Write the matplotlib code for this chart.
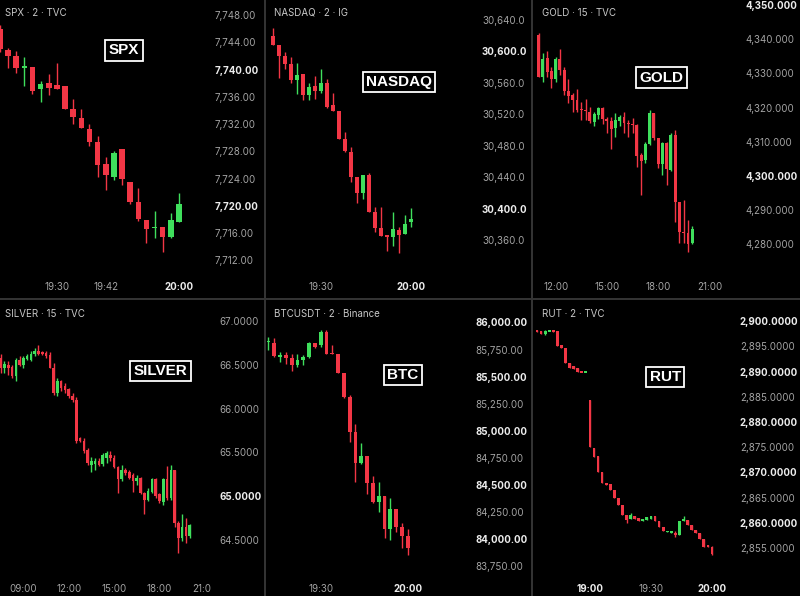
import numpy as np
import matplotlib.pyplot as plt
from matplotlib.patches import Rectangle

plt.rcParams['font.family'] = ['Inter', 'DejaVu Sans']

W, H = 800, 596
RED = '#f23645'
GREEN = '#3fdf5c'
DIVIDER = '#333333'
TICK = '#a3a3a3'
TICK_BOLD = '#ececec'

# ---------------- data (open, high, low, close) ----------------
spx_start, spx_step = '19:16', 2
spx_ohlc = [
    (7745.9, 7746.5, 7742.6, 7743.0), (7742.9, 7743.2, 7740.2, 7742.0), (7742.0, 7742.7, 7739.5, 7740.2),
    (7740.3, 7741.8, 7737.6, 7740.4), (7740.4, 7740.4, 7736.4, 7736.9), (7737.1, 7738.3, 7735.2, 7737.9),
    (7738.0, 7739.3, 7736.3, 7737.3), (7737.7, 7741.0, 7737.1, 7737.1), (7737.6, 7737.6, 7734.2, 7734.2),
    (7734.2, 7735.7, 7732.0, 7733.0), (7732.9, 7734.2, 7731.4, 7731.4), (7731.3, 7732.0, 7728.8, 7729.4),
    (7729.4, 7730.2, 7724.2, 7726.0), (7726.1, 7727.2, 7722.3, 7724.5), (7724.2, 7728.0, 7723.8, 7727.8),
    (7728.3, 7728.3, 7723.1, 7723.9), (7723.5, 7723.5, 7720.3, 7720.6), (7720.6, 7722.6, 7717.8, 7718.1),
    (7717.9, 7717.9, 7714.5, 7716.6), (7716.7, 7719.2, 7715.3, 7716.9), (7716.9, 7716.9, 7713.2, 7715.4),
    (7715.4, 7718.9, 7715.3, 7717.9), (7717.6, 7721.9, 7717.6, 7720.3),
]
spx_times = ['19:30', '19:42', '20:00']
spx_prices = [7748, 7744, 7740, 7736, 7732, 7728, 7724, 7720, 7716, 7712]
spx_bold_times = ['20:00']
spx_bold_prices = [7740, 7720]

nasdaq_start, nasdaq_step = '19:14', 2
nasdaq_ohlc = [
    (30619.4, 30629.6, 30608.0, 30608.0), (30608.0, 30608.0, 30566.1, 30594.0), (30594.0, 30599.1, 30577.5, 30583.9),
    (30583.9, 30592.8, 30559.7, 30563.5), (30563.5, 30585.1, 30545.8, 30569.9), (30571.2, 30571.2, 30538.1, 30544.5),
    (30544.5, 30559.7, 30538.1, 30554.7), (30556.0, 30568.6, 30539.4, 30549.6), (30549.6, 30577.5, 30547.0, 30559.7),
    (30559.7, 30564.8, 30528.0, 30529.3), (30531.8, 30547.0, 30524.2, 30524.2), (30524.2, 30524.2, 30488.6, 30488.6),
    (30488.6, 30497.5, 30472.1, 30473.4), (30472.1, 30478.5, 30434.0, 30440.4), (30440.4, 30440.4, 30407.3, 30420.0),
    (30420.0, 30442.9, 30412.4, 30442.9), (30442.9, 30445.5, 30395.9, 30395.9), (30395.9, 30402.3, 30370.5, 30375.6),
    (30375.6, 30402.3, 30365.4, 30365.4), (30366.7, 30366.7, 30346.4, 30364.2), (30364.2, 30395.9, 30352.7, 30374.3),
    (30373.0, 30376.9, 30343.8, 30366.7), (30368.0, 30392.1, 30368.0, 30380.7), (30383.3, 30401.0, 30376.9, 30387.0),
]
nasdaq_times = ['19:30', '20:00']
nasdaq_prices = [30640, 30600, 30560, 30520, 30480, 30440, 30400, 30360]
nasdaq_bold_times = ['20:00']
nasdaq_bold_prices = [30600, 30400]

gold_start, gold_step = '11:00', 15
gold_ohlc = [
    (4341.2, 4341.9, 4328.9, 4328.9), (4329.0, 4335.9, 4327.6, 4334.1), (4334.4, 4336.6, 4329.0, 4330.5),
    (4330.8, 4332.0, 4325.6, 4328.3), (4328.3, 4334.7, 4327.6, 4334.1), (4334.1, 4337.0, 4329.5, 4331.0),
    (4331.0, 4332.0, 4323.7, 4324.7), (4324.7, 4328.3, 4321.4, 4323.4), (4323.7, 4324.4, 4318.8, 4322.2),
    (4322.2, 4325.3, 4318.8, 4319.3), (4319.5, 4321.7, 4316.4, 4319.3), (4319.3, 4322.4, 4316.4, 4319.1),
    (4318.8, 4320.1, 4315.4, 4316.2), (4315.9, 4318.8, 4314.6, 4318.0), (4317.8, 4320.1, 4316.6, 4319.8),
    (4319.8, 4320.1, 4315.2, 4316.6), (4316.6, 4317.3, 4312.5, 4316.2), (4316.2, 4317.2, 4307.8, 4313.6),
    (4313.9, 4318.5, 4311.5, 4316.4), (4316.2, 4317.8, 4314.6, 4317.3), (4317.3, 4318.8, 4312.7, 4315.4),
    (4315.4, 4316.4, 4311.5, 4315.2), (4315.1, 4316.9, 4312.5, 4314.8), (4314.8, 4315.2, 4302.7, 4305.8),
    (4306.1, 4306.6, 4294.4, 4304.5), (4304.7, 4310.0, 4303.9, 4309.4), (4309.4, 4319.3, 4309.1, 4318.5),
    (4318.5, 4318.5, 4310.5, 4311.0), (4311.0, 4311.0, 4302.2, 4303.5), (4303.5, 4310.0, 4300.3, 4309.6),
    (4309.6, 4310.0, 4297.4, 4302.0), (4301.8, 4312.5, 4301.3, 4312.0), (4312.0, 4313.5, 4286.5, 4292.3),
    (4292.3, 4292.3, 4280.5, 4283.5), (4283.7, 4293.0, 4280.5, 4283.4), (4283.2, 4287.1, 4277.7, 4280.1),
    (4280.3, 4285.4, 4280.1, 4284.4),
]
gold_times = ['12:00', '15:00', '18:00', '21:00']
gold_prices = [4350, 4340, 4330, 4320, 4310, 4300, 4290, 4280]
gold_bold_times = []
gold_bold_prices = [4350, 4300]

silver_start, silver_step = '07:15', 15
silver_ohlc = [
    (66.77, 66.82, 66.52, 66.60), (66.58, 66.62, 66.41, 66.47), (66.47, 66.54, 66.41, 66.51),
    (66.50, 66.54, 66.39, 66.47), (66.48, 66.50, 66.35, 66.37), (66.37, 66.58, 66.32, 66.56),
    (66.56, 66.60, 66.49, 66.50), (66.50, 66.60, 66.47, 66.58), (66.57, 66.62, 66.56, 66.60),
    (66.56, 66.66, 66.54, 66.63), (66.62, 66.70, 66.60, 66.66), (66.66, 66.73, 66.61, 66.62),
    (66.65, 66.66, 66.61, 66.62), (66.64, 66.66, 66.58, 66.60), (66.61, 66.65, 66.46, 66.47),
    (66.47, 66.52, 66.16, 66.18), (66.18, 66.35, 66.14, 66.32), (66.32, 66.33, 66.20, 66.24),
    (66.26, 66.29, 66.18, 66.21), (66.22, 66.24, 66.12, 66.15), (66.15, 66.18, 66.08, 66.10),
    (66.10, 66.13, 65.61, 65.63), (65.66, 65.67, 65.62, 65.63), (65.63, 65.66, 65.49, 65.51),
    (65.53, 65.55, 65.36, 65.38), (65.36, 65.45, 65.28, 65.40), (65.37, 65.44, 65.30, 65.40),
    (65.40, 65.44, 65.34, 65.36), (65.37, 65.49, 65.34, 65.47), (65.44, 65.52, 65.38, 65.49),
    (65.47, 65.51, 65.40, 65.44), (65.44, 65.47, 65.32, 65.33), (65.33, 65.34, 65.04, 65.19),
    (65.19, 65.36, 65.17, 65.30), (65.30, 65.32, 65.24, 65.26), (65.28, 65.30, 65.19, 65.21),
    (65.24, 65.26, 65.05, 65.17), (65.17, 65.24, 65.13, 65.21), (65.21, 65.22, 65.02, 65.04),
    (65.04, 65.05, 64.79, 64.96), (64.96, 65.09, 64.94, 65.06), (65.05, 65.21, 65.04, 65.19),
    (65.19, 65.21, 64.98, 65.00), (65.02, 65.04, 64.92, 64.94), (64.93, 65.21, 64.90, 65.19),
    (65.19, 65.34, 64.96, 64.98), (64.98, 65.36, 64.96, 65.30), (65.30, 65.30, 64.65, 64.69),
    (64.69, 64.71, 64.35, 64.52), (64.52, 64.79, 64.48, 64.64), (64.64, 64.75, 64.46, 64.54),
    (64.54, 64.68, 64.52, 64.67),
]
silver_times = ['09:00', '12:00', '15:00', '18:00', '21:00']
silver_prices = [67.0, 66.5, 66.0, 65.5, 65.0, 64.5]
silver_bold_times = []
silver_bold_prices = [65.0]

btc_start, btc_step = '19:12', 2
btc_ohlc = [
    (85819, 85867, 85744, 85823), (85806, 85852, 85682, 85691), (85682, 85728, 85636, 85698),
    (85698, 85728, 85620, 85673), (85673, 85713, 85549, 85611), (85611, 85713, 85590, 85657),
    (85651, 85698, 85605, 85682), (85682, 85821, 85673, 85806), (85806, 85812, 85765, 85775),
    (85790, 85929, 85775, 85914), (85914, 85929, 85713, 85713), (85719, 85796, 85704, 85704),
    (85713, 85713, 85537, 85537), (85537, 85537, 85306, 85312), (85312, 85327, 84895, 84988),
    (84988, 85065, 84525, 84704), (84704, 84889, 84694, 84772), (84772, 84772, 84417, 84519),
    (84519, 84586, 84333, 84340), (84340, 84531, 84247, 84395), (84395, 84395, 84015, 84093),
    (84093, 84377, 83994, 84278), (84278, 84278, 84062, 84117), (84117, 84154, 83923, 84031),
    (84025, 84093, 83852, 83923),
]
btc_times = ['19:30', '20:00']
btc_prices = [86000, 85750, 85500, 85250, 85000, 84750, 84500, 84250, 84000, 83750]
btc_bold_times = ['20:00']
btc_bold_prices = [86000, 85500, 85000, 84500, 84000]

rut_start, rut_step = '18:34', 2
rut_ohlc = [
    (2898.2, 2898.3, 2897.8, 2897.8), (2898.0, 2898.1, 2897.5, 2897.5), (2897.4, 2898.2, 2897.35, 2898.1),
    (2898.0, 2898.3, 2898.0, 2898.2), (2898.2, 2898.3, 2897.8, 2897.8), (2898.0, 2898.0, 2895.0, 2895.0),
    (2895.2, 2895.2, 2894.7, 2894.7), (2894.7, 2894.7, 2891.7, 2891.7), (2891.7, 2891.7, 2890.7, 2890.7),
    (2891.1, 2891.1, 2890.6, 2890.6), (2890.7, 2890.7, 2889.9, 2889.9), (2890.0, 2890.0, 2889.85, 2889.9),
    (2889.9, 2890.0, 2889.9, 2890.0), (2884.4, 2884.4, 2875.0, 2875.0), (2874.85, 2874.85, 2873.0, 2873.0),
    (2873.2, 2873.2, 2870.1, 2870.1), (2870.1, 2870.1, 2867.9, 2867.9), (2867.9, 2867.9, 2867.6, 2867.6),
    (2867.7, 2867.7, 2866.6, 2866.6), (2866.6, 2866.6, 2864.9, 2864.9), (2864.9, 2864.9, 2863.6, 2863.6),
    (2863.6, 2863.6, 2861.6, 2861.6), (2861.6, 2861.6, 2860.0, 2860.6), (2860.8, 2862.0, 2860.8, 2861.6),
    (2861.3, 2861.3, 2860.8, 2860.8), (2861.0, 2861.0, 2860.3, 2860.3), (2860.4, 2860.8, 2860.4, 2860.8),
    (2860.6, 2861.1, 2860.6, 2861.1), (2860.8, 2861.3, 2860.8, 2861.3), (2861.3, 2861.3, 2860.3, 2860.3),
    (2860.3, 2860.3, 2859.1, 2859.1), (2859.1, 2859.1, 2858.3, 2858.3), (2858.1, 2858.4, 2858.1, 2858.4),
    (2858.0, 2858.3, 2858.0, 2858.3), (2858.0, 2858.3, 2857.1, 2857.5), (2857.65, 2860.3, 2857.65, 2860.3),
    (2860.4, 2861.3, 2860.4, 2860.8), (2860.6, 2860.6, 2859.6, 2859.6), (2859.6, 2859.6, 2858.5, 2858.5),
    (2858.5, 2858.5, 2858.0, 2858.0), (2858.0, 2858.0, 2856.7, 2856.7), (2856.7, 2856.7, 2855.1, 2855.1),
    (2855.5, 2855.5, 2855.1, 2855.2), (2855.1, 2855.3, 2853.7, 2853.8),
]
rut_times = ['19:00', '19:30', '20:00']
rut_prices = [2900, 2895, 2890, 2885, 2880, 2875, 2870, 2865, 2860, 2855]
rut_bold_times = ['19:00', '20:00']
rut_bold_prices = [2900, 2890, 2880, 2870, 2860]


def hm(s):
    h, m = s.split(':')
    return int(h) * 60 + int(m)


fig = plt.figure(figsize=(W / 100, H / 100), dpi=100, facecolor='black')


def panel(title, badge, start, step, ohlc, times, bold_times, prices, bold_prices, fmt, lay):
    l, t, r, b = lay['box']
    ax = fig.add_axes([l / W, 1 - b / H, (r - l) / W, (b - t) / H])
    ax.set_facecolor('black')
    for s in ax.spines.values():
        s.set_visible(False)

    # price scale calibrated on two axis labels (pixel rows)
    (p1, y1), (p2, y2) = lay['cal']
    k = (p2 - p1) / (y2 - y1)
    ax.set_ylim(p1 + (b - y1) * k, p1 + (t - y1) * k)
    tref, xref = lay['xref']
    ppm = lay['bar_px'] / step
    ax.set_xlim(hm(tref) - (xref - l) / ppm, hm(tref) + (r - xref) / ppm)

    x = hm(start) + step * np.arange(len(ohlc))
    o, hi, lo, c = np.array(ohlc, dtype=float).T
    col = np.where(c >= o, GREEN, RED)
    ax.vlines(x, lo, hi, colors=col, lw=1.0, zorder=2)
    hgt = np.maximum(np.abs(c - o), abs(k) * 1.3)
    ax.bar(x, hgt, width=0.68 * step, bottom=(o + c) / 2 - hgt / 2, color=col, lw=0, zorder=3)

    ax.yaxis.tick_right()
    ax.set_yticks(prices, [fmt.format(p) for p in prices])
    ax.set_xticks([hm(s) for s in times], times)
    ax.tick_params(length=0, labelsize=7, colors=TICK)
    ax.tick_params(axis='y', pad=lay.get('ypad', 3) * 0.72)
    ax.tick_params(axis='x', pad=-lay['xpad'])
    for p, lbl in zip(prices, ax.get_yticklabels()):
        if p in bold_prices:
            lbl.set_fontweight('bold')
            lbl.set_color(TICK_BOLD)
    for s, lbl in zip(times, ax.get_xticklabels()):
        if s in bold_times:
            lbl.set_fontweight('bold')
            lbl.set_color(TICK_BOLD)
        lbl.set_clip_box(ax.bbox)
        lbl.set_clip_on(True)

    tx, ty = lay['title']
    fig.text(tx / W, 1 - ty / H, title, ha='left', va='center', fontsize=7, color='#c8c8c8')
    bx, by = lay['badge']
    fig.text(bx / W, 1 - by / H, badge, ha='center', va='center', fontsize=11,
             family='Liberation Sans', fontweight='bold', color='white',
             bbox=dict(boxstyle='square,pad=0.22', fc='black', ec='white', lw=1.3))


panel('SPX · 2 · TVC', 'SPX', spx_start, spx_step, spx_ohlc, spx_times, spx_bold_times,
      spx_prices, spx_bold_prices, '{:,.2f}',
      dict(box=(0, 0, 212, 298), cal=((7748, 15.0), (7712, 260.3)), xref=('20:00', 179.0),
           bar_px=8.14, xpad=11.2, title=(5, 13), badge=(124, 50.5)))
panel('NASDAQ · 2 · IG', 'NASDAQ', nasdaq_start, nasdaq_step, nasdaq_ohlc, nasdaq_times, nasdaq_bold_times,
      nasdaq_prices, nasdaq_bold_prices, '{:,.1f}',
      dict(box=(267, 0, 479, 298), cal=((30640, 19.8), (30360, 240.3)), xref=('20:00', 411.0),
           bar_px=6.0, xpad=11.2, title=(274, 13), badge=(399, 82)))
panel('GOLD · 15 · TVC', 'GOLD', gold_start, gold_step, gold_ohlc, gold_times, gold_bold_times,
      gold_prices, gold_bold_prices, '{:,.3f}',
      dict(box=(534, 0, 742, 298), cal=((4350, 5.0), (4280, 244.3)), xref=('20:00', 692.3),
           bar_px=4.27, xpad=11.2, title=(542, 13), badge=(661.7, 77.7)))
panel('SILVER · 15 · TVC', 'SILVER', silver_start, silver_step, silver_ohlc, silver_times, silver_bold_times,
      silver_prices, silver_bold_prices, '{:.4f}',
      dict(box=(0, 300, 211, 596), cal=((67.0, 321.3), (64.5, 539.7)), xref=('20:00', 189.7),
           bar_px=3.78, xpad=8.6, ypad=8, title=(5, 314), badge=(160.7, 371)))
panel('BTCUSDT · 2 · Binance', 'BTC', btc_start, btc_step, btc_ohlc, btc_times, btc_bold_times,
      btc_prices, btc_bold_prices, '{:,.2f}',
      dict(box=(267, 300, 472, 596), cal=((86000, 322.4), (83750, 566.3)), xref=('20:00', 407.7),
           bar_px=5.8, xpad=8.6, title=(274, 314), badge=(403, 375)))
panel('RUT · 2 · TVC', 'RUT', rut_start, rut_step, rut_ohlc, rut_times, rut_bold_times,
      rut_prices, rut_bold_prices, '{:,.4f}',
      dict(box=(534, 300, 737, 596), cal=((2900, 321.3), (2855, 548.0)), xref=('20:00', 712.0),
           bar_px=4.07, xpad=8.6, title=(542, 314), badge=(665.3, 377)))

# panel dividers
for x0, y0, w, h in [(264, 0, 2, 596), (531, 0, 2, 596), (0, 298, 800, 2)]:
    fig.add_artist(Rectangle((x0 / W, 1 - (y0 + h) / H), w / W, h / H,
                             transform=fig.transFigure, color=DIVIDER, lw=0, zorder=10))

fig.savefig('out.png', dpi=100, facecolor='black')
